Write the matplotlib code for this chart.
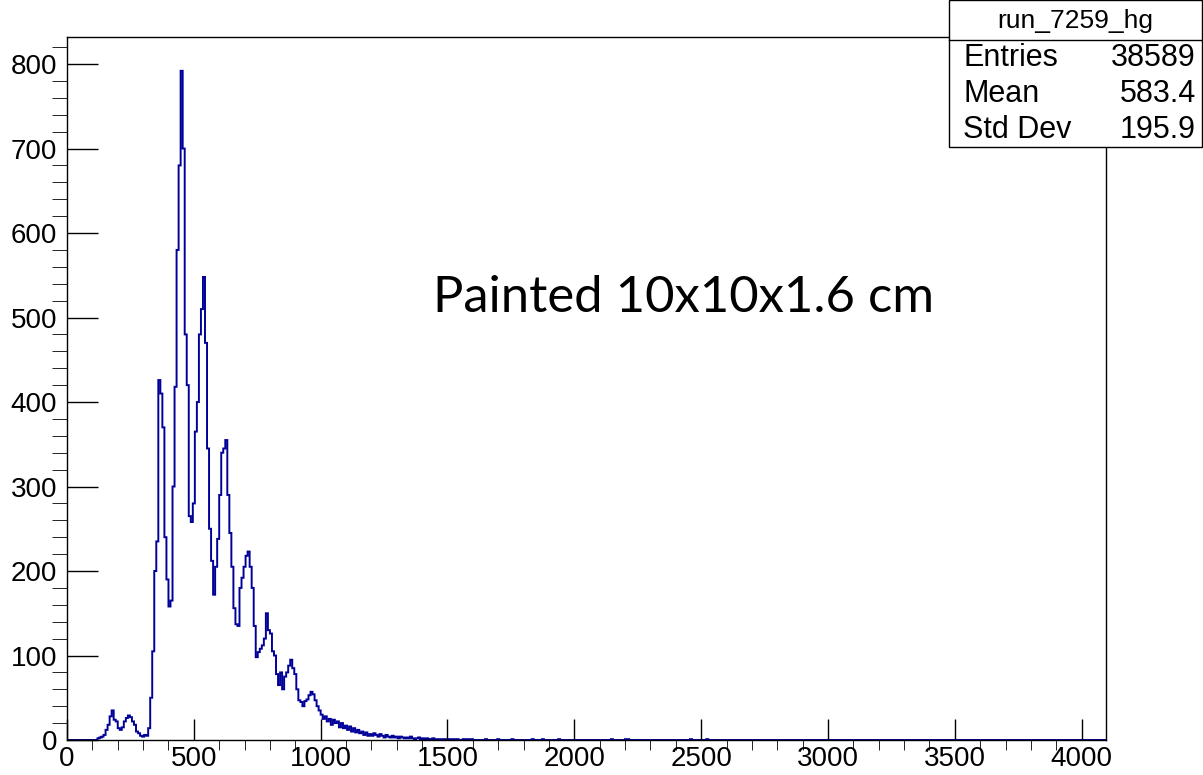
import numpy as np
import matplotlib.pyplot as plt
from matplotlib.patches import Rectangle
from matplotlib.lines import Line2D
from matplotlib.ticker import MultipleLocator

plt.rcParams['font.family'] = ['Liberation Sans', 'DejaVu Sans']

# histogram: 8-unit bins starting at 96
bin_width = 8
first_edge = 96
counts = [
    0, 0, 0, 2, 3, 4, 6, 12, 18, 28,          # 96 ..
    35, 24, 22, 14, 12, 15, 22, 26, 29, 27,   # 176 ..
    22, 18, 10, 8, 5, 4, 6, 5, 14, 50,        # 256 ..
    105, 200, 235, 426, 410, 370, 240, 190, 158, 165,  # 336 ..
    300, 418, 580, 680, 792, 700, 480, 420, 265, 258,  # 416 ..
    280, 365, 400, 480, 510, 548, 470, 345, 250, 212,  # 496 ..
    172, 205, 238, 290, 340, 345, 355, 290, 245, 205,  # 576 ..
    156, 137, 135, 180, 192, 205, 218, 223, 205, 180,  # 656 ..
    135, 98, 104, 108, 112, 120, 150, 130, 126, 105,   # 736 ..
    100, 78, 65, 80, 60, 75, 80, 88, 95, 85,           # 816 ..
    78, 60, 47, 45, 40, 46, 48, 53, 57, 54,            # 896 ..
    47, 40, 35, 30, 25, 28, 22, 25, 18, 24,            # 976 ..
    20, 22, 15, 20, 14, 17, 12, 16, 10, 14,            # 1056 ..
    9, 12, 8, 10, 6, 9, 5, 7, 5, 8,                    # 1136 ..
    6, 4, 7, 5, 3, 6, 4, 3, 5, 3,                      # 1216 ..
    4, 2, 4, 3, 2, 3, 2, 4, 2, 1,                      # 1296 ..
    2, 3, 1, 2, 1, 2, 1, 1, 2, 0,                      # 1376 ..
    1, 1, 0, 1, 1, 0, 1, 0, 1, 0,                      # 1456 ..
    1, 0, 0, 1, 0, 1, 0, 1,                            # 1536 ..
]

# isolated counts further out
tail_centers = [1652, 1700, 1756, 1836, 1876, 1940, 2148, 2204, 2212, 2460, 2524]
tail_counts = [1, 1, 1, 1, 1, 1, 1, 1, 1, 1, 1]

edges = np.arange(0, 4096 + bin_width, bin_width)
hist = np.zeros(len(edges) - 1)
i0 = first_edge // bin_width
hist[i0:i0 + len(counts)] = counts
for c, n in zip(tail_centers, tail_counts):
    hist[c // bin_width] = n

W, H = 1203, 775
fig = plt.figure(figsize=(W / 100, H / 100), dpi=100)
ax = fig.add_axes([67 / W, 1 - 740 / H, (1106 - 67) / W, (740 - 37) / H])

ax.stairs(hist, edges, color='#000099', lw=1.4)

ax.set_xlim(0, 4096)
ax.set_ylim(0, 832)
ax.xaxis.set_major_locator(MultipleLocator(500))
ax.xaxis.set_minor_locator(MultipleLocator(100))
ax.yaxis.set_major_locator(MultipleLocator(100))
ax.yaxis.set_minor_locator(MultipleLocator(20))
ax.tick_params(axis='both', direction='in', labelsize=20, width=1, colors='black')
ax.tick_params(axis='x', which='major', length=15, pad=4)
ax.tick_params(axis='x', which='minor', length=7.5)
ax.tick_params(axis='y', which='major', length=22, pad=7)
ax.tick_params(axis='y', which='minor', length=11)
for s in ax.spines.values():
    s.set_linewidth(1)
    s.set_zorder(3)

fig.text(433 / W, 1 - 312 / H, 'Painted 10x10x1.6 cm', fontsize=36.5,
         family=['Lato', 'DejaVu Sans'], fontweight='normal', va='baseline')

# stats box
bx0, bx1, by1 = 949, 1202, 147
fig.patches.append(Rectangle((bx0 / W, 1 - by1 / H), (bx1 - bx0) / W, by1 / H,
                             transform=fig.transFigure, fc='white', ec='black',
                             lw=1, zorder=5))
fig.lines.append(Line2D([bx0 / W, bx1 / W], [1 - 40 / H, 1 - 40 / H],
                        transform=fig.transFigure, color='black', lw=1, zorder=6))
fig.text((bx0 + bx1) / 2 / W, 1 - 21 / H, 'run_7259_hg', fontsize=19,
         ha='center', va='center', zorder=7)
rows = [('Entries', '38589'), ('Mean', '583.4'), ('Std Dev', '195.9')]
for k, (name, val) in enumerate(rows):
    y = 1 - (58 + 36 * k) / H
    fig.text(963 / W, y, name, fontsize=22, ha='left', va='center', zorder=7)
    fig.text(1196 / W, y, val, fontsize=22, ha='right', va='center', zorder=7)

fig.savefig('out.png', dpi=100)
